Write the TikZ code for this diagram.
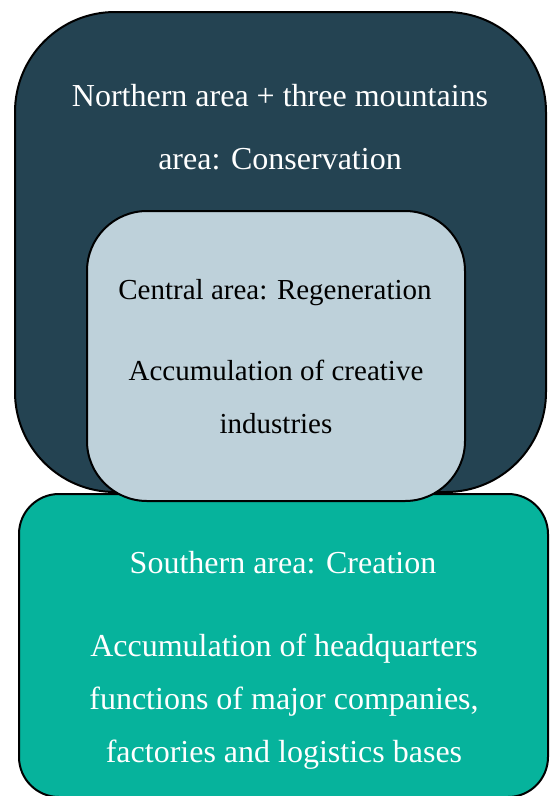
\documentclass[tikz,border=0pt]{standalone}
\usepackage{fontspec}
\setmainfont{Liberation Serif}
\definecolor{darkbox}{HTML}{244352}
\definecolor{lightbox}{HTML}{BED1DA}
\definecolor{greenbox}{HTML}{06B39C}
\tikzset{
  area/.style={draw=black, line width=2pt},
  bigtext/.style={font=\fontsize{32}{63}\selectfont, align=center, anchor=base, inner sep=0pt},
  midtext/.style={font=\fontsize{29}{53}\selectfont, align=center, anchor=base, inner sep=0pt},
  bodytext/.style={font=\fontsize{32}{53}\selectfont, align=center, anchor=base, inner sep=0pt},
}
\begin{document}
\begin{tikzpicture}[x=1pt, y=-1pt]
\useasboundingbox (0,0) rectangle (555,796);
% outer dark area
\draw[area, fill=darkbox, rounded corners=100pt] (15,12) rectangle (546,492);
% southern area
\draw[area, fill=greenbox, rounded corners=40pt] (19,494) rectangle (548,797);
% central area
\draw[area, fill=lightbox, rounded corners=60pt] (87,211) rectangle (465,501);
% texts (base anchor = baseline of last line)
\node[bigtext, text=white] (north) at (280,169) {Northern area + three mountains\\area: Conservation};
\node[midtext, text=black] (central) at (275,299) {Central area: Regeneration};
\node[midtext, text=black] (centralbody) at (276,433) {Accumulation of creative\\industries};
\node[bigtext, text=white] (south) at (283,573) {Southern area: Creation};
\node[bodytext, text=white] (southbody) at (284,762) {Accumulation of headquarters\\functions of major companies,\\factories and logistics bases};
\end{tikzpicture}
\end{document}
